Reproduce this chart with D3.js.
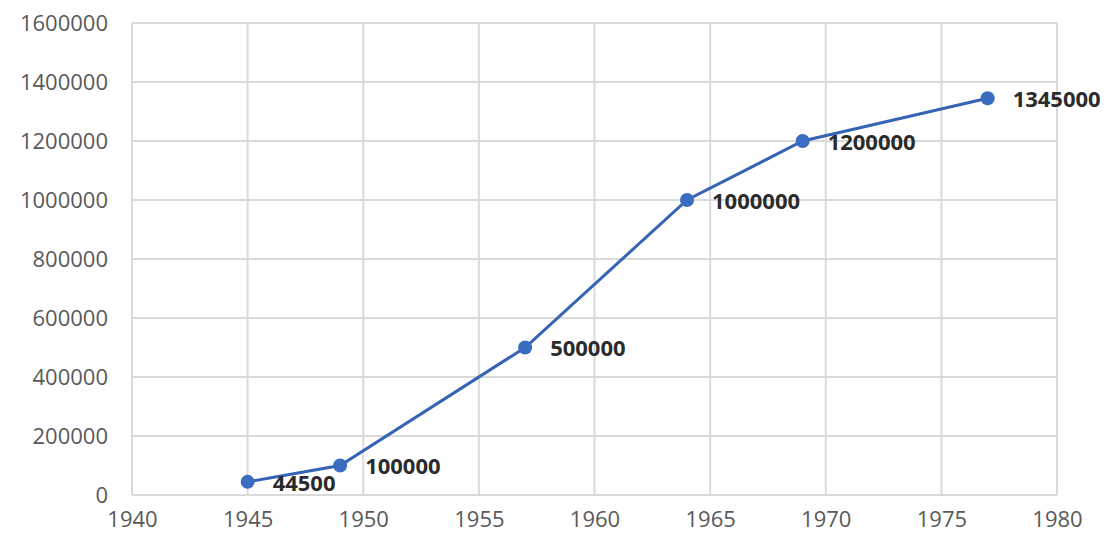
<!DOCTYPE html>
<html><head><meta charset="utf-8">
<script src="https://cdn.jsdelivr.net/npm/d3@7"></script>
<style>html,body{margin:0;padding:0;background:#fff;}</style>
</head><body>
<script>
const years = [1945, 1949, 1957, 1964, 1969, 1977];
const values = [44500, 100000, 500000, 1000000, 1200000, 1345000];
const xTicks = [1940, 1945, 1950, 1955, 1960, 1965, 1970, 1975, 1980];
const yTicks = [0, 200000, 400000, 600000, 800000, 1000000, 1200000, 1400000, 1600000];

const W = 1109, H = 542;
const m = {left: 132, right: 52, top: 23, bottom: 47};
const svg = d3.select("body").append("svg").attr("width", W).attr("height", H);
const x = d3.scaleLinear().domain([1940, 1980]).range([m.left, W - m.right]);
const y = d3.scaleLinear().domain([0, 1600000]).range([H - m.bottom, m.top]);
const font = "'Open Sans', sans-serif";

const g = svg.append("g");
g.selectAll("line.v").data(xTicks).join("line")
  .attr("x1", d => x(d)).attr("x2", d => x(d)).attr("y1", y(0)).attr("y2", y(1600000))
  .attr("stroke", "#dadada").attr("stroke-width", 2);
g.selectAll("line.h").data(yTicks).join("line")
  .attr("y1", d => y(d)).attr("y2", d => y(d)).attr("x1", x(1940)).attr("x2", x(1980))
  .attr("stroke", "#dadada").attr("stroke-width", 2);

const yAxis = svg.append("g").attr("transform", `translate(${m.left},0)`)
  .call(d3.axisLeft(y).tickValues(yTicks).tickFormat(d3.format("d")).tickSize(0).tickPadding(24));
yAxis.select(".domain").remove();
yAxis.selectAll("text").attr("font-family", font).attr("font-size", 22).attr("fill", "#595959");

const xAxis = svg.append("g").attr("transform", `translate(0,${y(0)})`)
  .call(d3.axisBottom(x).tickValues(xTicks).tickFormat(d3.format("d")).tickSize(0).tickPadding(16));
xAxis.select(".domain").remove();
xAxis.selectAll("text").attr("font-family", font).attr("font-size", 22).attr("fill", "#595959");

const data = years.map((yr, i) => ({yr, v: values[i]}));
svg.append("path").datum(data)
  .attr("d", d3.line().x(d => x(d.yr)).y(d => y(d.v)).curve(d3.curveLinear))
  .attr("fill", "none").attr("stroke", "#3563b5").attr("stroke-width", 3);
svg.selectAll("circle.pt").data(data).join("circle")
  .attr("cx", d => x(d.yr)).attr("cy", d => y(d.v)).attr("r", 7).attr("fill", "#3a6cc0");
svg.selectAll("text.lbl").data(data).join("text")
  .attr("x", d => x(d.yr) + 25).attr("y", d => y(d.v) + 3)
  .attr("dominant-baseline", "middle")
  .attr("font-family", font).attr("font-size", 22).attr("font-weight", "bold").attr("fill", "#2b2b2b")
  .text(d => d.v);
</script>
</body></html>
